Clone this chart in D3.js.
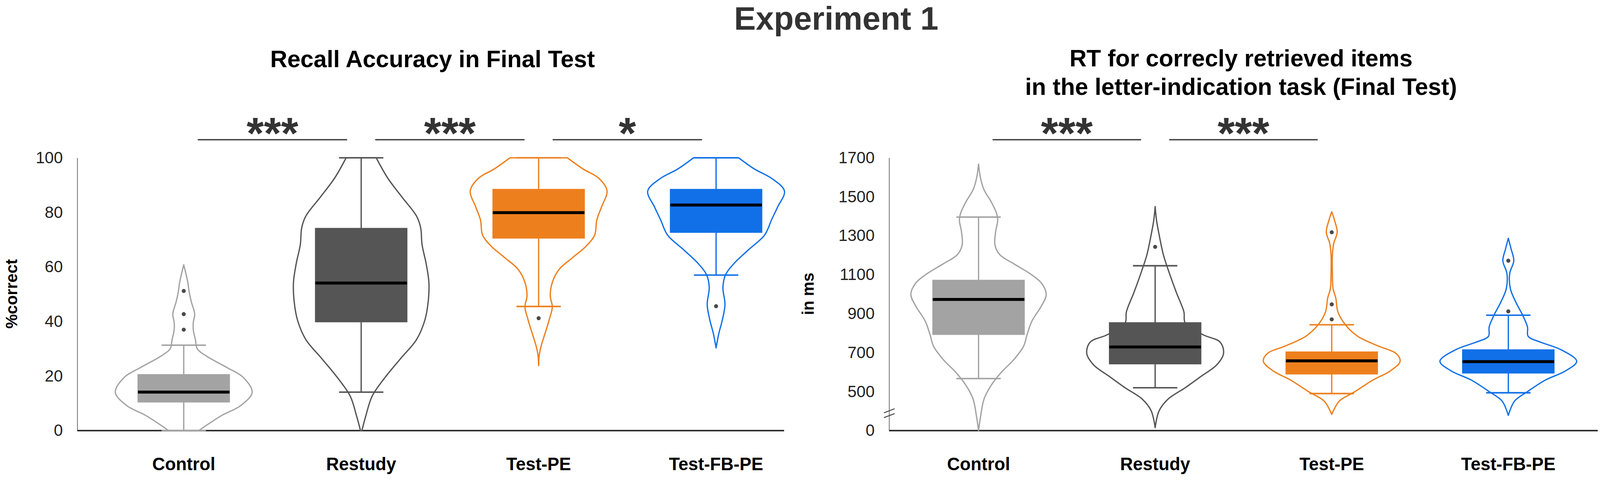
<!DOCTYPE html>
<html>
<head>
<meta charset="utf-8">
<title>Experiment 1</title>
<script src="https://d3js.org/d3.v7.min.js"></script>
<style>
    html, body { margin: 0; padding: 0; background: #fff; overflow: hidden; }
    svg { display: block; }
    text { font-family: "Liberation Sans", Arial, sans-serif; }
</style>
</head>
<body>
<script>
// categories and colours
let groups = ["Control", "Restudy", "Test-PE", "Test-FB-PE"];
let groupColors = ["#a3a3a3", "#555555", "#ee7f1d", "#1170e8"];

// recall accuracy: [lower whisker, q1, median, q3, upper whisker]
let accBoxes = [
    [0, 10.3, 14.1, 20.7, 31.3],
    [14.1, 39.7, 54.1, 74.3, 100],
    [45.5, 70.4, 79.9, 88.6, 100],
    [57.0, 72.5, 82.7, 88.6, 100]
];
let accOutliers = [[51.2, 42.7, 37.0], [], [41.2], [45.6]];
// violin outlines: [value, relative density]
let accViolins = [
    [[0,0.22],[5.6,0.56],[9.1,0.83],[14,1.0],[19.5,0.87],[23,0.64],[27.2,0.34],[29.9,0.20],[33.4,0.17],[36.9,0.14],[39.7,0.14],[42.7,0.16],[47.3,0.11],[50.8,0.08],[54.3,0.06],[57.7,0.03],[60.8,0]],
    [[0,0.01],[5.6,0.07],[12.6,0.16],[19.5,0.35],[26.5,0.58],[33.4,0.81],[40.4,0.93],[47.3,0.98],[54.3,0.99],[61.2,0.95],[68.2,0.89],[74.3,0.87],[78.6,0.81],[85.5,0.60],[92.5,0.39],[100,0.22]],
    [[23.8,0],[27.8,0.01],[31.3,0.04],[36.9,0.11],[41.1,0.16],[45.3,0.20],[49.4,0.17],[54.3,0.20],[59.1,0.30],[63.3,0.49],[67.5,0.69],[71.7,0.82],[77.2,0.85],[82,0.92],[87.9,1.0],[92.5,0.88],[95.9,0.65],[100,0.42]],
    [[30.3,0],[35.6,0.04],[40.4,0.09],[46.2,0.13],[52.5,0.10],[57.2,0.14],[61.2,0.26],[66.2,0.47],[71.7,0.71],[77.2,0.81],[82,0.90],[87.8,1.0],[92.5,0.81],[95.9,0.56],[100,0.33]]
];
let accTicks = [0, 20, 40, 60, 80, 100];
let accTickLabels = ["0", "20", "40", "60", "80", "100"];
let accSig = [[0, 1, "***"], [1, 2, "***"], [2, 3, "*"]];

// reaction times (ms)
let rtBoxes = [
    [567, 791, 973, 1074, 1396],
    [520, 640, 729, 856, 1146],
    [490, 588, 658, 706, 843],
    [494, 593, 654, 717, 892]
];
let rtOutliers = [[], [1243], [1318, 948, 871], [1172, 912]];
let rtViolins = [
    [[300,0],[373,0.03],[462,0.08],[530,0.18],[598,0.33],[666,0.52],[734,0.66],[793,0.71],[862,0.78],[940,0.92],[999,0.99],[1057,0.92],[1106,0.75],[1155,0.52],[1203,0.31],[1252,0.24],[1321,0.25],[1380,0.28],[1418,0.26],[1477,0.18],[1536,0.08],[1594,0.03],[1668,0]],
    [[315,0],[403,0.06],[462,0.19],[520,0.44],[578,0.67],[637,0.90],[696,1.0],[754,0.95],[792,0.70],[852,0.44],[910,0.42],[1009,0.31],[1106,0.21],[1203,0.12],[1302,0.06],[1380,0.02],[1450,0]],
    [[383,0],[451,0.11],[500,0.34],[559,0.60],[607,0.86],[656,1.0],[696,0.94],[734,0.68],[784,0.38],[843,0.20],[910,0.09],[979,0.06],[1028,0.02],[1106,0.01],[1203,0.01],[1262,0.03],[1318,0.08],[1380,0.04],[1423,0]],
    [[378,0],[451,0.09],[500,0.28],[559,0.54],[607,0.84],[656,1.0],[715,0.77],[754,0.47],[784,0.29],[832,0.28],[892,0.21],[959,0.11],[1028,0.03],[1106,0.02],[1172,0.08],[1233,0.04],[1287,0]]
];
let rtTicks = [300, 500, 700, 900, 1100, 1300, 1500, 1700];
let rtTickLabels = ["0", "500", "700", "900", "1100", "1300", "1500", "1700"];
let rtSig = [[0, 1, "***"], [1, 2, "***"]];

let W = 4328, H = 1288;
// viewBox so the drawing fits whatever viewport the page gets, pinned to the top
let svg = d3.select("body").append("svg")
    .attr("viewBox", `0 0 ${W} ${H}`)
    .attr("preserveAspectRatio", "xMidYMin meet")
    .style("width", "100vw")
    .style("height", "100vh");

svg.append("text")
    .attr("x", 2262).attr("y", 80)
    .attr("text-anchor", "middle")
    .attr("font-size", 88).attr("font-weight", "bold")
    .attr("fill", "#333")
    .text("Experiment 1");

let width = d3.scaleLinear().domain([0, 1]).range([0, 185]);

function drawPanel(p) {
    let g = svg.append("g");
    let x = d3.scalePoint().domain(groups).range(p.centers);
    let y = d3.scaleLinear().domain(p.domain).range([1165, 427]);

    // titles
    p.title.forEach((t, i) => {
        g.append("text")
            .attr("x", p.titleX).attr("y", p.titleY + i * 77)
            .attr("text-anchor", "middle")
            .attr("font-size", 64).attr("font-weight", "bold")
            .attr("fill", "#000")
            .text(t);
    });

    // y axis
    let axis = d3.axisLeft(y)
        .tickValues(p.ticks)
        .tickFormat((d, i) => p.tickLabels[i])
        .tickSize(0).tickSizeOuter(0)
        .tickPadding(39);
    let ax = g.append("g")
        .attr("transform", `translate(${p.axisX},0)`)
        .call(axis);
    ax.select(".domain").attr("stroke", "#666").attr("stroke-width", 2);
    ax.selectAll(".tick text")
        .attr("font-size", 44)
        .attr("fill", "#222")
        .style("font-family", '"Liberation Sans", Arial, sans-serif');

    g.append("text")
        .attr("transform", `translate(${p.yTitleX},795) rotate(-90)`)
        .attr("text-anchor", "middle")
        .attr("font-size", 44).attr("font-weight", "bold")
        .text(p.yTitle);

    // baseline
    g.append("line")
        .attr("x1", p.axisX).attr("x2", p.plotRight)
        .attr("y1", y.range()[0]).attr("y2", y.range()[0])
        .attr("stroke", "#222").attr("stroke-width", 4);

    if (p.axisBreak) {
        [0, 13].forEach(off => {
            g.append("line")
                .attr("x1", p.axisX - 14).attr("y1", 1117 + off)
                .attr("x2", p.axisX + 15).attr("y2", 1106 + off)
                .attr("stroke", "#444").attr("stroke-width", 2.5);
        });
    }

    // category labels
    groups.forEach(gr => {
        g.append("text")
            .attr("x", x(gr)).attr("y", 1272)
            .attr("text-anchor", "middle")
            .attr("font-size", 48).attr("font-weight", "bold")
            .text(gr);
    });

    groups.forEach((gr, i) => {
        let cx = x(gr);
        let col = groupColors[i];
        let area = d3.area()
            .curve(d3.curveCatmullRom.alpha(0.5))
            .y(d => y(d[0]))
            .x0(d => cx - width(d[1]))
            .x1(d => cx + width(d[1]));
        g.append("path")
            .attr("d", area(p.violins[i]))
            .attr("fill", "none")
            .attr("stroke", col)
            .attr("stroke-width", 3.5)
            .attr("stroke-linejoin", "round");

        let b = p.boxes[i];
        g.append("line")
            .attr("x1", cx).attr("x2", cx)
            .attr("y1", y(b[0])).attr("y2", y(b[4]))
            .attr("stroke", col).attr("stroke-width", 3.5);
        [b[0], b[4]].forEach(v => {
            g.append("line")
                .attr("x1", cx - 60).attr("x2", cx + 60)
                .attr("y1", y(v)).attr("y2", y(v))
                .attr("stroke", col).attr("stroke-width", 4);
        });
        g.append("rect")
            .attr("x", cx - 125).attr("width", 250)
            .attr("y", y(b[3])).attr("height", y(b[1]) - y(b[3]))
            .attr("fill", col);
        g.append("line")
            .attr("x1", cx - 124).attr("x2", cx + 124)
            .attr("y1", y(b[2])).attr("y2", y(b[2]))
            .attr("stroke", "#000").attr("stroke-width", 8);

        p.outliers[i].forEach(v => {
            g.append("circle")
                .attr("cx", cx).attr("cy", y(v)).attr("r", 5.5)
                .attr("fill", "#4a4a4a");
        });
    });

    // significance brackets
    p.sig.forEach(s => {
        let a = x(groups[s[0]]), c = x(groups[s[1]]);
        g.append("line")
            .attr("x1", a + 38).attr("x2", c - 38)
            .attr("y1", 378).attr("y2", 378)
            .attr("stroke", "#444").attr("stroke-width", 3.5);
        g.append("text")
            .attr("x", (a + c) / 2).attr("y", 402)
            .attr("text-anchor", "middle")
            .attr("font-size", 120).attr("font-weight", "bold")
            .attr("fill", "#333")
            .text(s[2]);
    });
}

drawPanel({
    centers: [497, 1937], axisX: 209, plotRight: 2121,
    domain: [0, 100], ticks: accTicks, tickLabels: accTickLabels,
    boxes: accBoxes, outliers: accOutliers, violins: accViolins, sig: accSig,
    title: ["Recall Accuracy in Final Test"], titleX: 1170, titleY: 182,
    yTitle: "%correct", yTitleX: 46, axisBreak: false
});

drawPanel({
    centers: [2647, 4080], axisX: 2405, plotRight: 4322,
    domain: [300, 1700], ticks: rtTicks, tickLabels: rtTickLabels,
    boxes: rtBoxes, outliers: rtOutliers, violins: rtViolins, sig: rtSig,
    title: ["RT for correcly retrieved items", "in the letter-indication task (Final Test)"],
    titleX: 3357, titleY: 180,
    yTitle: "in ms", yTitleX: 2201, axisBreak: true
});
</script>
</body>
</html>
